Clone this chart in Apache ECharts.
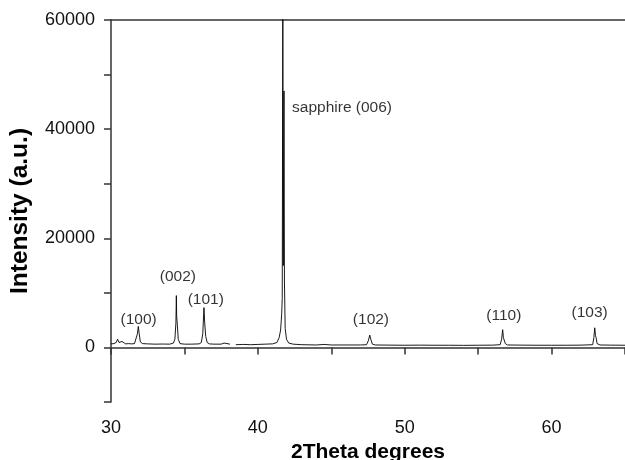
<!DOCTYPE html>
<html lang="en">
<head>
    <meta charset="UTF-8">
    <title>XRD pattern</title>
    <style>
        html, body { margin: 0; padding: 0; background: #fff; }
        #main { width: 625px; height: 460px; }
    </style>
</head>
<body>
<div id="main"></div>
<script src="https://cdn.jsdelivr.net/npm/echarts@6/dist/echarts.min.js"></script>
<script>
    // 2theta (deg) and intensity; null = gap in the record
    var twoTheta = [
        30.0, 30.2, 30.35, 30.45, 30.55, 30.65, 30.75, 30.85, 31.0, 31.2, 31.4, 31.6,
        31.72, 31.8, 31.86, 31.92, 32.0, 32.15, 32.5, 33.0, 33.5, 34.0, 34.25, 34.35,
        34.42, 34.45, 34.47, 34.52, 34.58, 34.7, 35.0, 35.5, 36.0, 36.15, 36.25, 36.33,
        36.38, 36.45, 36.55, 36.7, 37.0, 37.5, 37.7, 37.8, 38.1, 38.3, 38.5, 39.0,
        39.5, 40.0, 40.5, 41.0, 41.3, 41.45, 41.55, 41.62, 41.66, 41.70, 41.73, 41.78,
        41.81, 41.86, 41.95, 42.1, 42.4, 43.0, 44.0, 44.5, 45.0, 46.0, 47.0, 47.4,
        47.52, 47.62, 47.7, 47.8, 48.0, 49.0, 50.0, 51.0, 52.0, 53.0, 54.0, 55.0,
        56.0, 56.5, 56.6, 56.67, 56.72, 56.76, 56.85, 57.0, 58.0, 59.0, 60.0, 61.0,
        62.0, 62.8, 62.88, 62.94, 62.99, 63.03, 63.1, 63.3, 64.0, 65.0
    ];
    var intensity = [
        650, 700, 900, 1500, 900, 800, 1100, 750, 650, 700, 650, 700,
        1000, 2500, 3850, 2500, 1000, 700, 650, 600, 620, 600, 800, 1500,
        4500, 9500, 5800, 4000, 1500, 700, 600, 600, 650, 900, 2500, 7300,
        4500, 2000, 900, 650, 600, 600, 800, 600, 600, null, 500, 550,
        500, 550, 600, 650, 900, 1800, 3200, 6000, 9000, 65000, 15000, 47000,
        12000, 3500, 1500, 800, 600, 500, 450, 550, 450, 450, 450, 500,
        1200, 2250, 1400, 600, 450, 420, 400, 420, 400, 400, 380, 400,
        420, 500, 1500, 3250, 1800, 2000, 700, 450, 420, 400, 400, 400,
        420, 500, 1800, 3600, 2200, 1800, 700, 450, 420, 400
    ];

    // peak annotations: anchor in data units
    var labelX = [31.88, 34.55, 36.45, 47.70, 56.75, 62.59, 42.33];
    var labelY = [5100, 13000, 8800, 5100, 5850, 6300, 43840];
    var labelText = ['(100)', '(002)', '(101)', '(102)', '(110)', '(103)', 'sapphire (006)'];

    var xTicks = [30, 40, 50, 60];
    var yTicks = [0, 20000, 40000, 60000];

    var scan = twoTheta.map(function (t, i) {
        return [t, intensity[i] === null ? '-' : intensity[i]];
    });
    var notes = labelX.map(function (x, i) {
        return {
            value: [x, labelY[i]],
            label: {align: i === 6 ? 'left' : 'center'}
        };
    });

    var axisColor = '#333';
    var font = 'Liberation Sans, Arial, sans-serif';

    var myChart = echarts.init(document.getElementById('main'));
    var option = {
        animation: false,
        backgroundColor: '#fff',
        grid: {left: 111, right: 0, top: 20, bottom: 58, containLabel: false, outerBoundsMode: 'none'},
        xAxis: [
            {
                type: 'value',
                min: 30,
                max: 65,
                interval: 5,
                name: '2Theta degrees',
                nameLocation: 'middle',
                nameGap: 40,
                nameTextStyle: {fontFamily: font, fontSize: 21, fontWeight: 'bold', color: '#000'},
                axisLine: {lineStyle: {color: axisColor, width: 1.5}},
                axisTick: {length: 7, lineStyle: {color: axisColor, width: 1.5}},
                axisLabel: {
                    margin: 17,
                    fontFamily: font,
                    fontSize: 18,
                    color: '#111',
                    formatter: function (v) { return xTicks.indexOf(v) >= 0 ? String(v) : ''; }
                },
                splitLine: {show: false}
            },
            {
                type: 'value',
                position: 'top',
                min: 30,
                max: 65,
                axisLine: {show: true, lineStyle: {color: axisColor, width: 1.5}},
                axisTick: {show: false},
                axisLabel: {show: false},
                splitLine: {show: false}
            }
        ],
        yAxis: {
            type: 'value',
            min: -10000,
            max: 60000,
            interval: 10000,
            name: 'Intensity (a.u.)',
            nameLocation: 'middle',
            nameGap: 78,
            nameTextStyle: {fontFamily: font, fontSize: 24.5, fontWeight: 'bold', color: '#000'},
            axisLine: {show: true, lineStyle: {color: axisColor, width: 1.5}},
            axisTick: {show: true, length: 7, lineStyle: {color: axisColor, width: 1.5}},
            axisLabel: {
                margin: 16,
                fontFamily: font,
                fontSize: 18,
                color: '#111',
                formatter: function (v) { return yTicks.indexOf(v) >= 0 ? String(v) : ''; }
            },
            splitLine: {show: false}
        },
        series: [
            {
                type: 'line',
                data: scan,
                showSymbol: false,
                connectNulls: false,
                clip: true,
                lineStyle: {color: '#000', width: 0.9},
                emphasis: {disabled: true}
            },
            {
                type: 'scatter',
                data: notes,
                symbolSize: 0,
                silent: true,
                label: {
                    show: true,
                    position: 'inside',
                    fontFamily: font,
                    fontSize: 15.5,
                    color: '#000',
                    formatter: function (p) { return labelText[p.dataIndex]; }
                }
            }
        ]
    };
    myChart.setOption(option);
</script>
</body>
</html>
